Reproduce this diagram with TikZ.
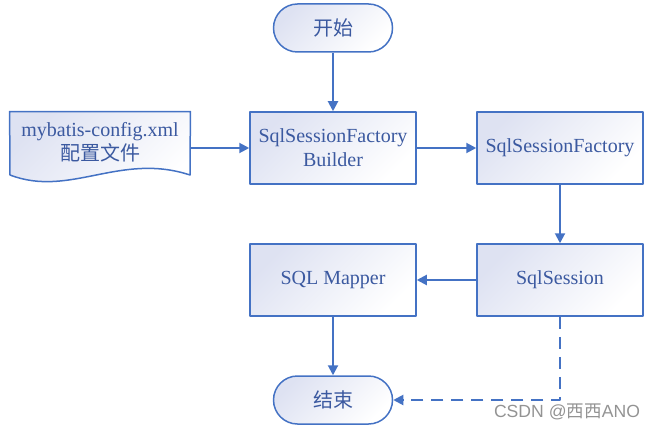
\documentclass[tikz,border=0pt]{standalone}
\usepackage{fontspec}
\setmainfont{Liberation Serif}
\newfontfamily\cjk{Noto Sans CJK SC}
\newfontfamily\wmfont{Liberation Sans}
\usetikzlibrary{arrows.meta}
\definecolor{flowline}{RGB}{68,114,196}
\definecolor{flowtext}{RGB}{59,89,160}
\definecolor{flowfill}{RGB}{222,226,242}
\begin{document}
\begin{tikzpicture}[x=0.5pt, y=-0.5pt, font=\fontsize{10}{12}\selectfont, line join=round,
		>={Triangle[length=5pt, width=5pt]},
		box/.style={draw=flowline, line width=0.75pt, text=flowtext, align=center,
			minimum width=83pt, minimum height=36pt, inner sep=2pt,
			left color=flowfill, right color=white, shading angle=45},
		term/.style={box, rounded corners=12pt, minimum width=59.5pt, minimum height=24pt},
		flow/.style={draw=flowline, line width=1pt, ->}]
	\useasboundingbox (0,0) rectangle (656,432);
	% nodes
	\node[term] (start) at (333,28) {\cjk 开始};
	\node[box] (builder) at (333,148) {SqlSessionFactory\\Builder};
	\node[box] (factory) at (560,148) {SqlSessionFactory};
	\node[box] (session) at (560,280) {SqlSession};
	\node[box] (mapper) at (333,280) {SQL Mapper};
	\node[term] (stop) at (333,400) {\cjk 结束};
	% config file (document shape)
	\node[text=flowtext, align=center, minimum width=90pt, minimum height=36pt, inner sep=0pt]
		(cfg) at (100,148) {};
	\draw[draw=flowline, line width=0.75pt, left color=flowfill, right color=white, shading angle=45]
		(cfg.north west) -- (cfg.north east) -- (190,175)
		.. controls (120,152) and (70,198) .. (10,175) -- cycle;
	\node[text=flowtext, align=center] (cfgtext) at (100,142) {mybatis-config.xml\\{\cjk 配置文件}};
	% connectors
	\draw[flow] (start) -- (builder);
	\draw[flow] (cfg.east) -- (builder);
	\draw[flow] (builder) -- (factory);
	\draw[flow] (factory) -- (session);
	\draw[flow] (session) -- (mapper);
	\draw[flow] (mapper) -- (stop);
	\draw[flow, dashed, dash pattern=on 6pt off 4pt] (session) |- (stop);
	% watermark
	\node[text=gray!85, font=\fontsize{8.8}{10}\selectfont] (mark) at (567,412) {\wmfont CSDN @{\cjk 西西}ANO};
\end{tikzpicture}
\end{document}
